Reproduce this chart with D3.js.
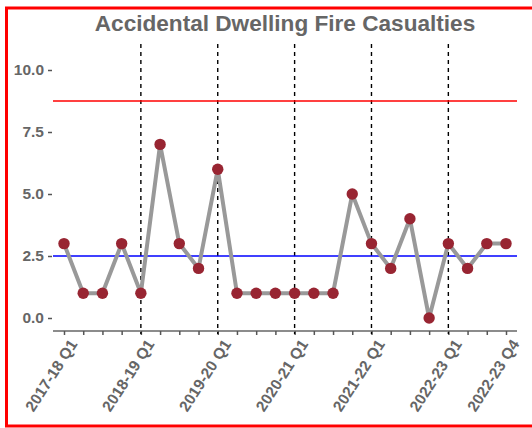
<!DOCTYPE html>
<html><head><meta charset="utf-8">
<script src="https://cdn.jsdelivr.net/npm/d3@7"></script>
<style>body{margin:0;background:#fff}svg{display:block}</style>
</head><body>
<script>
const title = "Accidental Dwelling Fire Casualties";
const categories = [
  "2017-18 Q1","2017-18 Q2","2017-18 Q3","2017-18 Q4",
  "2018-19 Q1","2018-19 Q2","2018-19 Q3","2018-19 Q4",
  "2019-20 Q1","2019-20 Q2","2019-20 Q3","2019-20 Q4",
  "2020-21 Q1","2020-21 Q2","2020-21 Q3","2020-21 Q4",
  "2021-22 Q1","2021-22 Q2","2021-22 Q3","2021-22 Q4",
  "2022-23 Q1","2022-23 Q2","2022-23 Q3","2022-23 Q4"];
const casualties = [3,1,1,3,1,7,3,2,6,1,1,1,1,1,1,5,3,2,4,0,3,2,3,3];
const labelledTicks = ["2017-18 Q1","2018-19 Q1","2019-20 Q1","2020-21 Q1","2021-22 Q1","2022-23 Q1","2022-23 Q4"];
const yearStarts = ["2018-19 Q1","2019-20 Q1","2020-21 Q1","2021-22 Q1","2022-23 Q1"];
const yTicks = [0, 2.5, 5, 7.5, 10];
const meanLine = 2.5;
const upperLine = 8.75;

const W = 532, H = 428;
const svg = d3.select("body").append("svg").attr("width", W).attr("height", H);

const x = d3.scalePoint().domain(categories).range([64, 506]);
const y = d3.scaleLinear().domain([0, 10]).range([318, 70]);
const panel = {left: 53, right: 517, top: 44, bottom: 331};
const textCol = "#666666";
const font = "Liberation Sans, Arial, sans-serif";

// title
svg.append("text").attr("x", 285).attr("y", 31).attr("text-anchor", "middle")
  .attr("font-family", font).attr("font-weight", "bold")
  .attr("font-size", 22.6).attr("fill", textCol).text(title);

// y axis (ticks + labels, no line)
const yAxis = d3.axisLeft(y).tickValues(yTicks).tickFormat(d3.format(".1f")).tickSize(4).tickPadding(4);
const gy = svg.append("g").attr("transform", `translate(${panel.left - 1},0)`).call(yAxis);
gy.select(".domain").remove();
gy.selectAll(".tick line").attr("stroke", "#555").attr("stroke-width", 1.5);
gy.selectAll(".tick text").attr("font-family", font)
  .attr("font-weight", "bold").attr("font-size", 15.5).attr("fill", textCol);

// x axis
const xAxis = d3.axisBottom(x).tickSize(4).tickFormat(d => labelledTicks.includes(d) ? d : "");
const gx = svg.append("g").attr("transform", `translate(0,${panel.bottom})`).call(xAxis);
gx.select(".domain").attr("d", `M${panel.left},0H${panel.right}`).attr("stroke", "#8c8c8c").attr("stroke-width", 2);
gx.selectAll(".tick line").attr("stroke", "#555").attr("stroke-width", 1.5);
gx.selectAll(".tick text")
  .attr("font-family", font).attr("font-weight", "bold")
  .attr("font-size", 15.5).attr("fill", textCol)
  .attr("text-anchor", "end").attr("dy", "0.35em").attr("y", 0)
  .attr("transform", "translate(9,10) rotate(-57)");

// vertical dashed lines
svg.append("g").selectAll("line").data(yearStarts).join("line")
  .attr("x1", d => x(d)).attr("x2", d => x(d))
  .attr("y1", panel.top).attr("y2", panel.bottom + 3)
  .attr("stroke", "#000").attr("stroke-width", 1.4).attr("stroke-dasharray", "4,4");

// horizontal reference lines
svg.append("line").attr("x1", panel.left).attr("x2", panel.right)
  .attr("y1", y(upperLine)).attr("y2", y(upperLine)).attr("stroke", "#ff0000").attr("stroke-width", 1.5);
svg.append("line").attr("x1", panel.left).attr("x2", panel.right)
  .attr("y1", y(meanLine)).attr("y2", y(meanLine)).attr("stroke", "#0000ff").attr("stroke-width", 1.5);

// series line
svg.append("path").datum(casualties)
  .attr("d", d3.line().x((d, i) => x(categories[i])).y(d => y(d)))
  .attr("fill", "none").attr("stroke", "#999999").attr("stroke-width", 4).attr("stroke-linejoin", "round");

// points
svg.append("g").selectAll("circle").data(casualties).join("circle")
  .attr("cx", (d, i) => x(categories[i])).attr("cy", d => y(d)).attr("r", 5.7)
  .attr("fill", "#982532");

// border
svg.append("rect").attr("x", 6.5).attr("y", 8).attr("width", 545).attr("height", 418)
  .attr("fill", "none").attr("stroke", "#ff0000").attr("stroke-width", 3);
</script>
</body></html>
